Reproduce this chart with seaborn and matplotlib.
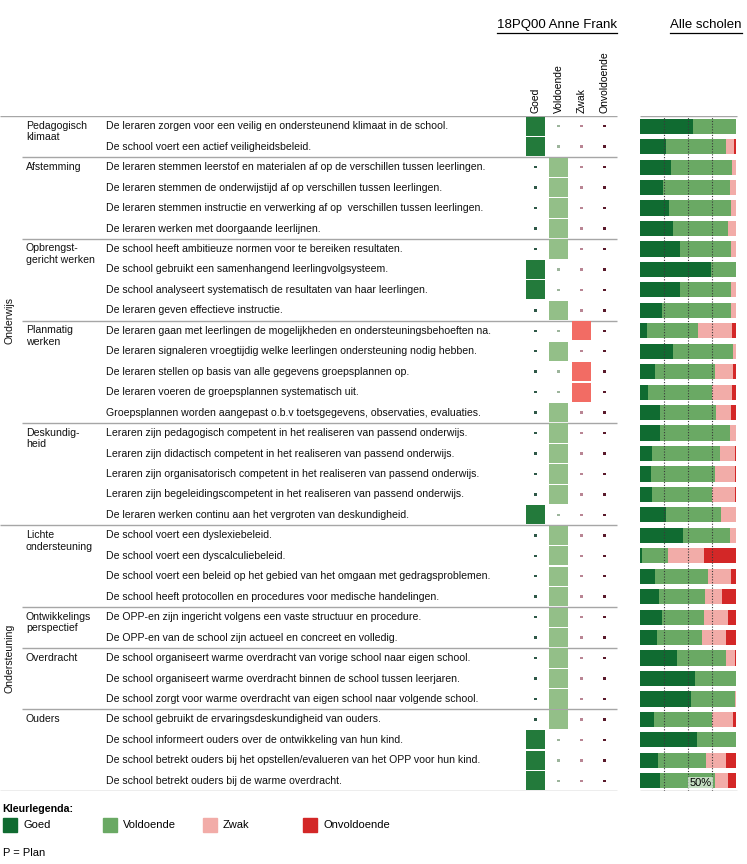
import pandas as pd
import numpy as np
import matplotlib
matplotlib.use("Agg")
import matplotlib.pyplot as plt
from matplotlib.patches import Rectangle
import seaborn as sns

# ---- data ----
groups = [
    ("Pedagogisch\nklimaat", 2),
    ("Afstemming", 4),
    ("Opbrengst-\ngericht werken", 4),
    ("Planmatig\nwerken", 5),
    ("Deskundig-\nheid", 5),
    ("Lichte\nondersteuning", 4),
    ("Ontwikkelings\nperspectief", 2),
    ("Overdracht", 3),
    ("Ouders", 4),
]
sections = [("Onderwijs", 20), ("Ondersteuning", 13)]

items = [
    "De leraren zorgen voor een veilig en ondersteunend klimaat in de school.",
    "De school voert een actief veiligheidsbeleid.",
    "De leraren stemmen leerstof en materialen af op de verschillen tussen leerlingen.",
    "De leraren stemmen de onderwijstijd af op verschillen tussen leerlingen.",
    "De leraren stemmen instructie en verwerking af op  verschillen tussen leerlingen.",
    "De leraren werken met doorgaande leerlijnen.",
    "De school heeft ambitieuze normen voor te bereiken resultaten.",
    "De school gebruikt een samenhangend leerlingvolgsysteem.",
    "De school analyseert systematisch de resultaten van haar leerlingen.",
    "De leraren geven effectieve instructie.",
    "De leraren gaan met leerlingen de mogelijkheden en ondersteuningsbehoeften na.",
    "De leraren signaleren vroegtijdig welke leerlingen ondersteuning nodig hebben.",
    "De leraren stellen op basis van alle gegevens groepsplannen op.",
    "De leraren voeren de groepsplannen systematisch uit.",
    "Groepsplannen worden aangepast o.b.v toetsgegevens, observaties, evaluaties.",
    "Leraren zijn pedagogisch competent in het realiseren van passend onderwijs.",
    "Leraren zijn didactisch competent in het realiseren van passend onderwijs.",
    "Leraren zijn organisatorisch competent in het realiseren van passend onderwijs.",
    "Leraren zijn begeleidingscompetent in het realiseren van passend onderwijs.",
    "De leraren werken continu aan het vergroten van deskundigheid.",
    "De school voert een dyslexiebeleid.",
    "De school voert een dyscalculiebeleid.",
    "De school voert een beleid op het gebied van het omgaan met gedragsproblemen.",
    "De school heeft protocollen en procedures voor medische handelingen.",
    "De OPP-en zijn ingericht volgens een vaste structuur en procedure.",
    "De OPP-en van de school zijn actueel en concreet en volledig.",
    "De school organiseert warme overdracht van vorige school naar eigen school.",
    "De school organiseert warme overdracht binnen de school tussen leerjaren.",
    "De school zorgt voor warme overdracht van eigen school naar volgende school.",
    "De school gebruikt de ervaringsdeskundigheid van ouders.",
    "De school informeert ouders over de ontwikkeling van hun kind.",
    "De school betrekt ouders bij het opstellen/evalueren van het OPP voor hun kind.",
    "De school betrekt ouders bij de warme overdracht.",
]

categories = ["Goed", "Voldoende", "Zwak", "Onvoldoende"]

# rating of 18PQ00 Anne Frank per item
school_rating = [
    "Goed", "Goed",
    "Voldoende", "Voldoende", "Voldoende", "Voldoende",
    "Voldoende", "Goed", "Goed", "Voldoende",
    "Zwak", "Voldoende", "Zwak", "Zwak", "Voldoende",
    "Voldoende", "Voldoende", "Voldoende", "Voldoende", "Goed",
    "Voldoende", "Voldoende", "Voldoende", "Voldoende",
    "Voldoende", "Voldoende",
    "Voldoende", "Voldoende", "Voldoende",
    "Voldoende", "Goed", "Goed", "Goed",
]

# distribution over all schools (%)
alle_goed = [55, 27, 32, 24, 30, 34, 42, 74, 42, 22.5, 7, 34, 16, 8, 21, 21, 12,
             11, 12, 27, 44.5, 2, 15.5, 20, 23, 17.5, 39, 57, 53, 14.5, 59, 18.5, 21]
alle_voldoende = [44.5, 63, 63.5, 70, 65, 58, 53, 25.5, 53, 72.5, 53.5, 62.5, 62,
                  67.5, 58, 72.5, 71, 67, 62.5, 57, 49, 27.5, 55.5, 48, 43.5, 47,
                  50.5, 42.5, 46, 61, 40.5, 50, 57]
alle_zwak = [0, 8, 4.5, 5.5, 5, 7.5, 5, 0, 5, 5, 35, 3, 18.5, 20, 15.5, 6, 16,
             21, 24.5, 15.5, 6, 37, 24, 17.5, 25, 25, 9.5, 0, 0.5, 21, 0, 21.5, 14]
alle_onvoldoende = [0.5, 2, 0, 0.5, 0, 0.5, 0, 0.5, 0, 0, 4.5, 0.5, 3.5, 4.5, 5.5,
                    0.5, 1, 1, 1, 0.5, 0.5, 33.5, 5, 14.5, 8.5, 10.5, 1, 0.5, 0.5,
                    3.5, 0.5, 10, 8]

# ---- colours ----
bar_colors = {"Goed": "#106b31", "Voldoende": "#6aa964",
              "Zwak": "#f2aca8", "Onvoldoende": "#d32727"}
square_colors = {"Goed": "#237a3b", "Voldoende": "#93bf88", "Zwak": "#f26c64"}
dot_colors = {"Goed": "#2e5847", "Voldoende": "#9db59c",
              "Zwak": "#b98594", "Onvoldoende": "#5a1a2b"}
line_col = "#a6a6a6"

W, H = 747, 864
plt.rcParams["font.family"] = ["Liberation Sans", "DejaVu Sans"]
fig = plt.figure(figsize=(W / 100, H / 100), dpi=100)

top_px, bot_px = 116, 791
n = len(items)
rect_y = (H - bot_px) / H
rect_h = (bot_px - top_px) / H


def px(x, y):
    return x / W, 1 - y / H


# ---- table text axes (x in pixels, y in rows) ----
ax_t = fig.add_axes([0, rect_y, 1, rect_h])
ax_t.set_xlim(0, W)
ax_t.set_ylim(n - 0.5, -0.5)
ax_t.axis("off")

fs = 7.6
for i, txt in enumerate(items):
    ax_t.text(106, i, txt, fontsize=fs, va="center", ha="left", color="#111111")

start = 0
bounds = []
for name, cnt in groups:
    ax_t.text(26, start - 0.27, name, fontsize=fs, va="top", ha="left",
              color="#111111", linespacing=1.22)
    start += cnt
    bounds.append(start - 0.5)

sec_start = 0
sec_bounds = []
for name, cnt in sections:
    ax_t.text(10, sec_start - 0.5 + cnt / 2, name, fontsize=fs, rotation=90,
              va="center", ha="center", color="#111111")
    sec_start += cnt
    sec_bounds.append(sec_start - 0.5)

ax_t.hlines(-0.5, 0, 617, color=line_col, lw=1)
for b in bounds:
    x0 = 0 if (b in sec_bounds) else 22
    ax_t.hlines(b, x0, 617, color=line_col, lw=1)
ax_t.hlines([-0.5, n - 0.5], 640, 737, color=line_col, lw=1)

# ---- school matrix ----
ax_m = fig.add_axes([524 / W, rect_y, 92 / W, rect_h])
sq = pd.DataFrame({"row": np.arange(n),
                   "col": [categories.index(r) for r in school_rating],
                   "rating": school_rating})
dots = pd.DataFrame([(i, k, c) for i in range(n) for k, c in enumerate(categories)
                     if c != school_rating[i]], columns=["row", "col", "cat"])
sns.scatterplot(data=dots, x="col", y="row", hue="cat", palette=dot_colors,
                marker="s", s=3, linewidth=0, legend=False, ax=ax_m)
sns.scatterplot(data=sq, x="col", y="row", hue="rating", palette=square_colors,
                marker="s", s=190, linewidth=0, legend=False, ax=ax_m)
ax_m.set_xlim(-0.5, 3.5)
ax_m.set_ylim(n - 0.5, -0.5)
ax_m.axis("off")

# ---- all schools stacked bars ----
ax_b = fig.add_axes([640 / W, rect_y, 96 / W, rect_h])
df = pd.DataFrame({"item": items, "Goed": alle_goed, "Voldoende": alle_voldoende,
                   "Zwak": alle_zwak, "Onvoldoende": alle_onvoldoende})
cum = df[categories].cumsum(axis=1)
for cat in reversed(categories):
    sns.barplot(x=cum[cat], y=df["item"], orient="h", color=bar_colors[cat],
                saturation=1, width=0.74, errorbar=None, ax=ax_b)
for v in (25, 50, 75):
    ax_b.axvline(v, color="#3a3a3a", ls=(0, (1, 1.5)), lw=0.8, zorder=5)
ax_b.text(63, n - 1 + 0.1, "50%", fontsize=8, ha="center", va="center",
          zorder=6, bbox=dict(boxstyle="square,pad=0.1", fc="white", ec="none",
                              alpha=0.6))
ax_b.set_xlim(0, 100)
ax_b.set_ylim(n - 0.5, -0.5)
ax_b.axis("off")

# ---- headers ----
for label, x0, x1 in [("18PQ00 Anne Frank", 497, 617), ("Alle scholen", 670, 742)]:
    fig.text(*px((x0 + x1) / 2, 25), label, fontsize=9.5, ha="center", va="center")
    fig.add_artist(plt.Line2D([x0 / W, x1 / W], [1 - 33 / H, 1 - 33 / H],
                              color="black", lw=0.9, transform=fig.transFigure))

for k, c in enumerate(categories):
    fig.text(*px(535.5 + 23 * k, 113), c, fontsize=7.5, rotation=90,
             ha="center", va="bottom")

# ---- legend ----
fig.text(*px(2, 809), "Kleurlegenda:", fontsize=7.7, fontweight="bold",
         va="center", ha="left")
for k, c in enumerate(categories):
    x0 = 3 + 100 * k
    fig.add_artist(Rectangle(px(x0, 832), 14 / W, 14 / H, color=bar_colors[c],
                             transform=fig.transFigure))
    fig.text(*px(x0 + 20, 825), c, fontsize=8, va="center", ha="left")
fig.text(*px(3, 853), "P = Plan", fontsize=8, va="center", ha="left")

fig.savefig("out.png", dpi=100)
